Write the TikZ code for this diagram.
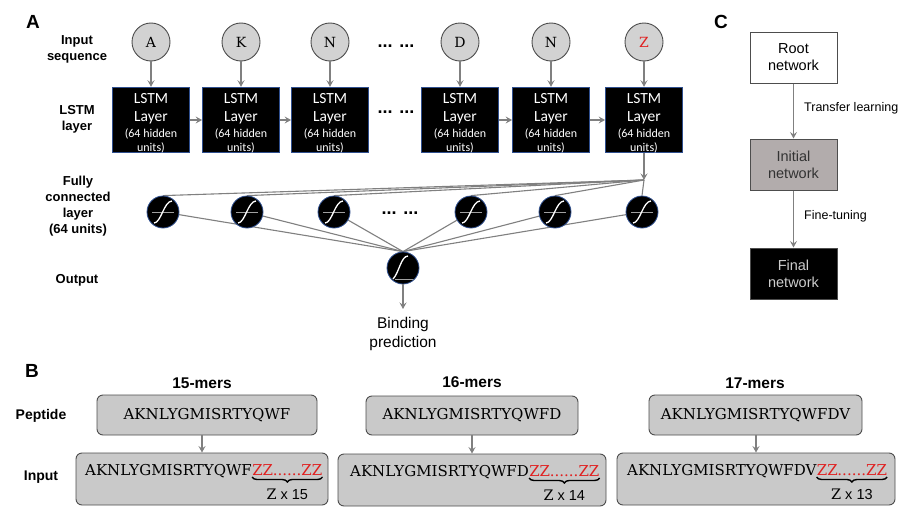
\documentclass[tikz,border=0pt]{standalone}
\usepackage{fontspec}
\setmainfont{Liberation Sans}
\newfontfamily\carlito{Carlito}
\newfontfamily\seqfont{DejaVu Serif}
\usetikzlibrary{arrows.meta,backgrounds,decorations.pathreplacing,calc}
\definecolor{arrowgray}{HTML}{808080}
\definecolor{edgegray}{HTML}{4D4D4D}
\definecolor{lightfill}{HTML}{D2D2D2}
\definecolor{boxfill}{HTML}{C9C9C9}
\definecolor{initfill}{HTML}{B2ACAC}
\definecolor{lstmedge}{HTML}{2F4F8F}
\definecolor{zred}{HTML}{E02020}
\definecolor{symgray}{HTML}{A0A0A0}
\tikzset{
  arr/.style={draw=arrowgray, line width=1.2pt, -{Stealth[length=6.5pt,width=7pt,inset=2.5pt]}},
  conn/.style={draw=arrowgray, line width=1.1pt},
  incirc/.style={circle, draw=edgegray, line width=0.9pt, fill=lightfill, minimum size=38pt, inner sep=0pt, font=\seqfont\fontsize{14}{14}\selectfont},
  lstm/.style={rectangle, draw=lstmedge, line width=0.8pt, fill=black, minimum width=77pt, minimum height=64pt, inner sep=0pt, text=white, align=center, font=\carlito\fontsize{15.5}{17}\selectfont},
  neuron/.style={circle, draw=lstmedge, line width=0.8pt, fill=black, minimum size=32pt, inner sep=0pt},
  sig/.style={neuron, path picture={
    \begin{scope}[shift={(path picture bounding box.center)}]
      \draw[symgray, line width=0.9pt] (-11,0) -- (11,0);
      \draw[white, line width=1.3pt] (-9,11) .. controls (-2,11) and (1,-11) .. (9,-11);
    \end{scope}}},
  outsym/.style={neuron, path picture={
    \begin{scope}[shift={(path picture bounding box.center)}]
      \draw[symgray, line width=0.9pt] (-8,11) -- (12,11);
      \draw[white, line width=1.3pt] (-10,11) .. controls (-4,5) and (-2,-12) .. (5,-12);
    \end{scope}}},
  sidelabel/.style={align=center, inner sep=0pt, font=\bfseries\fontsize{13}{16}\selectfont},
  panel/.style={inner sep=0pt, font=\bfseries\fontsize{19}{19}\selectfont},
  dots/.style={inner sep=0pt, font=\bfseries\fontsize{18}{18}\selectfont},
  cbox/.style={rectangle, draw=edgegray, line width=1pt, minimum width=87pt, minimum height=51pt, inner sep=0pt, align=center, font=\fontsize{14.5}{17}\selectfont},
  clabel/.style={anchor=west, inner sep=0pt, font=\fontsize{12.5}{14}\selectfont},
  btitle/.style={inner sep=0pt, font=\bfseries\fontsize{15.5}{16}\selectfont},
  bside/.style={inner sep=0pt, font=\bfseries\fontsize{14}{16}\selectfont},
  pbox/.style={rectangle, rounded corners=6pt, draw=edgegray, line width=0.9pt, fill=boxfill, inner sep=0pt, font=\seqfont\fontsize{15}{15}\selectfont},
  seq/.style={inner sep=0pt, anchor=base west, font=\seqfont\fontsize{15}{15}\selectfont},
  brc/.style={decorate, decoration={brace, mirror, amplitude=5pt}, draw=black, line width=1.4pt},
  zlab/.style={inner sep=0pt, anchor=north, font=\fontsize{14.5}{15}\selectfont},
}
\newcommand{\smallline}{\fontsize{12}{13}\selectfont}
\newcommand{\lstmtext}{\rule{0pt}{16pt}LSTM\\[1pt]Layer\\[-1pt]\smallline (64 hidden\\[-3pt]\smallline units)}
\begin{document}
\begin{tikzpicture}[x=1pt, y=-1pt]
\useasboundingbox (0,0) rectangle (905,514);
% ---------- Panel A ----------
\node[panel] (labA) at (33,22) {A};
\node[sidelabel] (lin) at (77,49) {Input\\sequence};
\node[sidelabel] (llstm) at (77,119) {LSTM\\layer};
\node[sidelabel] (lfc) at (78,206) {Fully\\connected\\layer\\(64 units)};
\node[sidelabel] (lout) at (77,280) {Output};

\node[incirc] (c1) at (151,42) {A};
\node[incirc] (c2) at (241,42) {K};
\node[incirc] (c3) at (330,42) {N};
\node[incirc] (c4) at (460,42) {D};
\node[incirc] (c5) at (551,42) {N};
\node[incirc, text=zred] (c6) at (644,42) {Z};
\node[dots] (d1) at (396,46) {... ...};

\node[lstm] (l1) at (151,120) {\lstmtext};
\node[lstm] (l2) at (241,120) {\lstmtext};
\node[lstm] (l3) at (330,120) {\lstmtext};
\node[lstm] (l4) at (460,120) {\lstmtext};
\node[lstm] (l5) at (551,120) {\lstmtext};
\node[lstm] (l6) at (644,120) {\lstmtext};
\node[dots] (d2) at (396,112) {... ...};

\foreach \i in {1,...,6} { \draw[arr] (c\i) -- (l\i); }
\draw[arr] (l1) -- (l2);
\draw[arr] (l2) -- (l3);
\draw[arr] (l4) -- (l5);
\draw[arr] (l5) -- (l6);

\coordinate (jn) at (644,180);
\draw[arr] (l6) -- (jn);

\node[sig] (f1) at (163,212) {};
\node[sig] (f2) at (247,212) {};
\node[sig] (f3) at (334,212) {};
\node[sig] (f4) at (471,212) {};
\node[sig] (f5) at (555,212) {};
\node[sig] (f6) at (642,212) {};
\node[dots] (d3) at (400,213) {... ...};
\node[outsym] (o) at (403,268) {};

\begin{scope}[on background layer]
  \fill[white] (0,0) rectangle (905,514);
  \foreach \i in {1,...,6} {
    \draw[conn] (jn) -- (f\i.north);
    \draw[conn] (f\i) -- (o.north);
  }
\end{scope}

\node[anchor=north, inner sep=0pt, inner ysep=8pt, align=center, font=\fontsize{15.5}{19}\selectfont] (bind) at (403,309) {Binding\\prediction};
\draw[arr] (o) -- (bind.north);

% ---------- Panel C ----------
\node[panel] (labC) at (721,22) {C};
\node[cbox, fill=white] (root) at (793.5,57.5) {Root\\network};
\node[cbox, fill=initfill, text=black!80] (init) at (793.5,164.5) {Initial\\network};
\node[cbox, fill=black, text=black!20] (final) at (793.5,273.5) {Final\\network};
\draw[arr] (root) -- (init);
\draw[arr] (init) -- (final);
\node[clabel] (tl) at (804,108) {Transfer learning};
\node[clabel] (ft) at (804,216) {Fine-tuning};

% ---------- Panel B ----------
\node[panel] (labB) at (32,371) {B};
\node[btitle] (t15) at (202,383) {15-mers};
\node[btitle] (t16) at (472,382) {16-mers};
\node[btitle] (t17) at (755,383) {17-mers};
\node[bside] (pep) at (41,416) {Peptide};
\node[bside] (inp) at (41,477) {Input};

\node[pbox, minimum width=220pt, minimum height=40pt] (p15) at (207,415) {AKNLYGMISRTYQWF};
\node[pbox, minimum width=212pt, minimum height=39pt] (p16) at (472,415.5) {AKNLYGMISRTYQWFD};
\node[pbox, minimum width=213pt, minimum height=40pt] (p17) at (755.5,415) {AKNLYGMISRTYQWFDV};

\node[pbox, minimum width=252pt, minimum height=52pt] (i15) at (202,479) {};
\node[pbox, minimum width=268pt, minimum height=52pt] (i16) at (472,480) {};
\node[pbox, minimum width=278pt, minimum height=52pt] (i17) at (756,479) {};

\draw[arr] (p15.south -| i15.north) -- (i15.north);
\draw[arr] (p16.south -| i16.north) -- (i16.north);
\draw[arr] (p17.south -| i17.north) -- (i17.north);

\node[seq] (s15) at (85,475.5) {AKNLYGMISRTYQWF};
\node[seq, text=zred] (z15) at (s15.base east) {ZZ......ZZ};
\node[seq] (s16) at (350,476.5) {AKNLYGMISRTYQWFD};
\node[seq, text=zred] (z16) at (s16.base east) {ZZ......ZZ};
\node[seq] (s17) at (627,475.5) {AKNLYGMISRTYQWFDV};
\node[seq, text=zred] (z17) at (s17.base east) {ZZ......ZZ};

\draw[brc] ([yshift=-1.5pt]z15.base west) -- ([yshift=-1.5pt]z15.base east);
\draw[brc] ([yshift=-1.5pt]z16.base west) -- ([yshift=-1.5pt]z16.base east);
\draw[brc] ([yshift=-1.5pt]z17.base west) -- ([yshift=-1.5pt]z17.base east);
\node[zlab] (zl15) at ([yshift=-13pt]z15.base) {{\seqfont Z} x 15};
\node[zlab] (zl16) at ([yshift=-13pt]z16.base) {{\seqfont Z} x 14};
\node[zlab] (zl17) at ([yshift=-13pt]z17.base) {{\seqfont Z} x 13};
\end{tikzpicture}
\end{document}
